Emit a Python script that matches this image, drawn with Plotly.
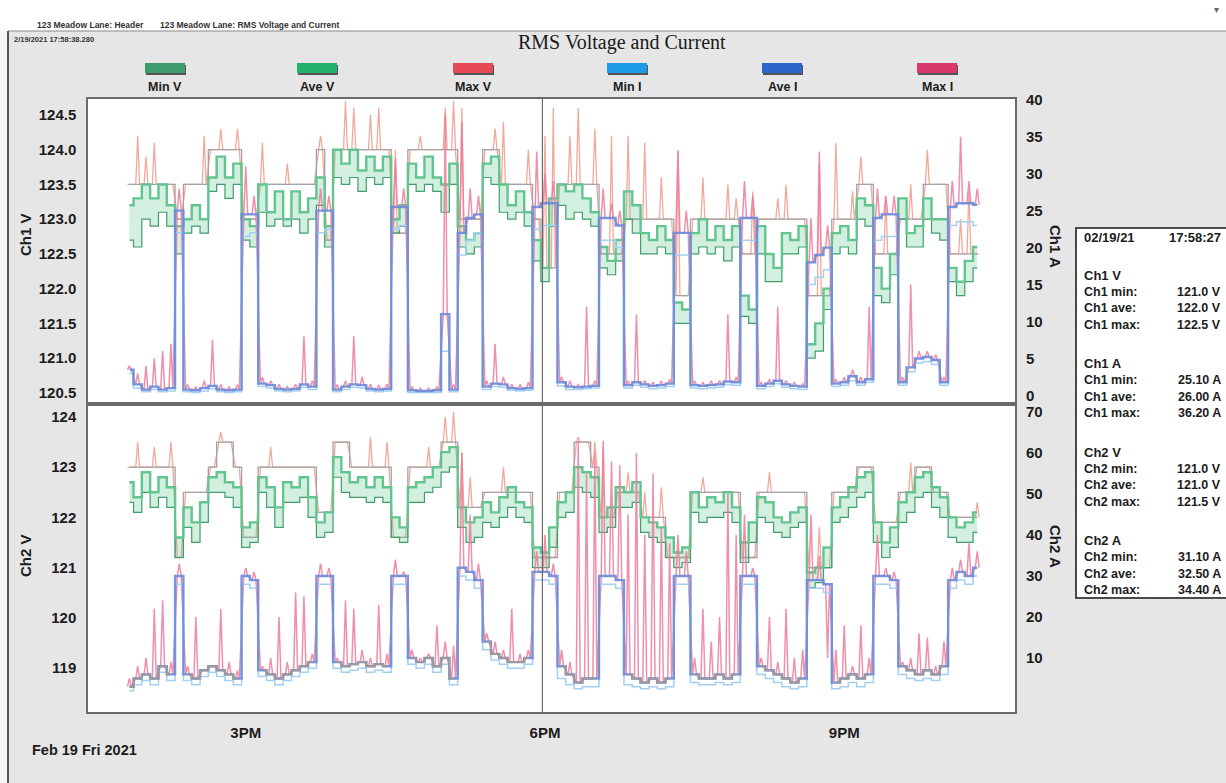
import pandas as pd
import plotly.graph_objects as go

# ---------------- data (5-minute samples from 13:50) -------------
sample_start = "2021-02-19 13:50"
sample_step = "5min"
cursor_time = "2021-02-19 17:58:27"

ch1_ave_v = [123.2, 123.3, 123.5, 123.3, 123.5, 123.2, 122.9, 123.0, 123.2, 123.0,
             123.6, 123.9, 123.6, 123.8, 123.0, 122.9, 123.5, 123.1, 123.4, 123.0,
             123.4, 123.1, 123.3, 123.6, 122.9, 124.0, 123.8, 124.0, 123.7, 123.9,
             123.7, 123.9, 123.0, 123.2, 123.8, 123.6, 123.9, 123.6, 123.5, 123.8,
             122.9, 122.7, 122.8, 123.8, 123.9, 123.5, 123.2, 123.4, 123.1, 122.7,
             122.3, 123.3, 123.5, 123.4, 123.5, 123.3, 123.1, 122.6, 122.4, 122.7,
             123.4, 123.2, 122.8, 122.7, 122.9, 122.7, 121.8, 121.7, 122.8, 123.0,
             122.7, 122.9, 122.7, 122.9, 121.9, 121.7, 122.9, 122.5, 122.3, 122.8,
             122.7, 122.9, 121.2, 121.5, 122.0, 122.8, 122.9, 122.7, 123.3, 123.2,
             122.3, 122.0, 122.5, 123.3, 122.8, 122.9, 123.3, 123.0, 123.0, 122.3,
             122.1, 122.4, 122.6]
ch1_min_v = [122.7, 122.6, 123.0, 122.9, 123.1, 122.9, 122.5, 122.8, 122.9, 122.8,
             123.4, 123.5, 123.3, 123.5, 122.7, 122.6, 123.1, 122.9, 123.0, 122.9,
             123.0, 122.8, 123.0, 123.2, 122.6, 123.6, 123.5, 123.6, 123.4, 123.6,
             123.5, 123.6, 122.8, 122.9, 123.5, 123.4, 123.5, 123.4, 123.1, 123.5,
             122.6, 122.5, 122.6, 123.6, 123.5, 123.1, 123.0, 123.1, 122.9, 122.4,
             122.1, 122.9, 123.2, 123.0, 123.1, 123.0, 122.9, 122.3, 122.2, 122.4,
             123.0, 122.8, 122.5, 122.5, 122.6, 122.5, 121.5, 121.5, 122.5, 122.6,
             122.5, 122.6, 122.4, 122.6, 121.6, 121.5, 122.5, 122.1, 122.1, 122.5,
             122.5, 122.6, 121.0, 121.1, 121.7, 122.5, 122.6, 122.5, 123.0, 122.9,
             121.9, 121.8, 122.2, 123.0, 122.6, 122.6, 123.0, 122.8, 122.7, 122.1,
             121.9, 122.1, 122.3]
ch1_trend_v = [123.5, 123.5, 123.5, 123.5, 123.5, 123.5, 123.0, 123.5, 123.5, 123.5,
               124.0, 124.0, 124.0, 124.0, 123.0, 123.0, 123.5, 123.5, 123.5, 123.5,
               123.5, 123.5, 123.5, 124.0, 122.7, 124.0, 124.0, 124.0, 124.0, 124.0,
               124.0, 124.0, 122.8, 122.8, 124.0, 124.0, 124.0, 124.0, 124.0, 124.0,
               123.0, 123.0, 123.0, 124.0, 124.0, 123.5, 123.5, 123.5, 123.5, 123.0,
               122.3, 122.3, 123.5, 123.5, 123.5, 123.5, 123.5, 122.5, 122.5, 122.5,
               123.0, 123.0, 123.0, 123.0, 123.0, 123.0, 121.9, 121.9, 123.0, 123.0,
               123.0, 123.0, 123.0, 123.0, 122.5, 122.5, 123.0, 123.0, 123.0, 123.0,
               123.0, 123.0, 121.9, 121.9, 121.9, 123.0, 123.0, 123.0, 123.5, 123.5,
               122.5, 122.5, 122.5, 123.0, 123.0, 123.0, 123.5, 123.5, 123.5, 122.5,
               122.5, 122.5, 122.5]
ch1_max_v = [123.5, 124.2, 123.9, 124.1, 123.5, 123.5, 123.0, 123.5, 123.5, 124.2,
             124.0, 124.3, 124.0, 124.3, 123.0, 123.0, 124.1, 123.5, 123.5, 123.8,
             123.5, 123.5, 123.5, 124.2, 122.7, 124.0, 124.7, 124.6, 124.0, 124.5,
             124.6, 124.0, 124.0, 122.8, 124.0, 124.2, 124.0, 124.0, 124.6, 124.7,
             124.6, 123.0, 123.0, 124.0, 124.3, 124.4, 123.5, 123.5, 124.0, 123.0,
             124.2, 124.6, 123.5, 124.2, 124.6, 123.5, 124.3, 122.5, 124.2, 122.5,
             124.2, 123.0, 124.1, 123.0, 123.6, 123.0, 124.0, 121.9, 123.0, 123.6,
             123.0, 123.0, 123.5, 123.3, 122.5, 123.4, 123.0, 123.0, 123.3, 123.5,
             123.0, 123.0, 121.9, 123.8, 121.9, 124.1, 123.0, 123.4, 123.9, 123.5,
             122.5, 123.3, 122.5, 123.0, 123.5, 123.0, 124.0, 123.5, 123.5, 122.5,
             123.0, 123.4, 122.5]
ch1_ave_i = [3.5, 1.5, 0.8, 1.2, 0.8, 1.0, 25.0, 0.8, 0.7, 1.0,
             1.3, 0.8, 0.7, 0.8, 24.5, 24.5, 1.6, 1.4, 0.9, 0.8,
             0.9, 1.5, 1.2, 25.0, 25.0, 0.8, 1.2, 1.5, 1.4, 0.9,
             0.8, 0.9, 25.5, 25.5, 0.7, 0.6, 0.6, 0.7, 11.0, 0.8,
             22.0, 24.0, 24.5, 1.2, 1.6, 1.5, 1.0, 0.9, 1.0, 25.5,
             26.0, 26.0, 1.8, 1.2, 1.1, 1.2, 1.3, 24.0, 24.0, 23.0,
             1.4, 1.8, 1.5, 1.3, 1.4, 1.6, 22.0, 22.0, 1.4, 1.3,
             1.4, 1.5, 1.9, 1.8, 24.0, 24.0, 1.3, 1.6, 2.0, 1.5,
             1.3, 1.2, 18.0, 19.0, 20.0, 1.6, 1.8, 2.6, 1.8, 2.2,
             24.0, 24.5, 24.5, 1.8, 3.8, 5.0, 5.2, 4.8, 1.8, 25.5,
             26.0, 26.0, 25.8]
ch1_min_i = [3.0, 1.0, 0.5, 0.8, 0.5, 0.6, 22.0, 0.5, 0.4, 0.6,
             0.9, 0.5, 0.4, 0.5, 21.5, 22.0, 1.2, 1.0, 0.6, 0.5,
             0.6, 1.1, 0.8, 22.0, 22.5, 0.5, 0.8, 1.1, 1.0, 0.6,
             0.5, 0.6, 22.5, 23.0, 0.4, 0.4, 0.4, 0.4, 6.0, 0.5,
             19.0, 21.0, 22.0, 0.8, 1.2, 1.1, 0.7, 0.6, 0.7, 22.5,
             23.0, 23.0, 1.3, 0.8, 0.8, 0.9, 1.0, 21.0, 21.0, 20.0,
             1.0, 1.4, 1.1, 0.9, 1.0, 1.2, 19.0, 19.0, 1.0, 0.9,
             1.0, 1.1, 1.5, 1.4, 21.0, 21.0, 0.9, 1.2, 1.6, 1.1,
             0.9, 0.8, 15.0, 16.0, 17.0, 1.2, 1.4, 2.0, 1.4, 1.8,
             21.0, 21.5, 21.5, 1.4, 3.2, 4.4, 4.6, 4.2, 1.4, 23.0,
             23.5, 23.5, 23.0]
ch1_max_i = [4.0, 3.0, 4.0, 5.0, 6.0, 7.0, 28.0, 1.5, 1.2, 2.0,
             7.5, 1.5, 1.2, 1.5, 31.0, 27.0, 2.5, 2.0, 1.5, 1.2,
             1.5, 8.0, 2.0, 28.0, 27.0, 1.5, 2.0, 8.0, 2.5, 1.5,
             1.4, 1.5, 32.0, 28.0, 1.2, 1.0, 1.0, 1.2, 38.0, 1.5,
             37.0, 28.0, 27.0, 2.0, 7.0, 2.5, 1.5, 1.5, 1.8, 33.0,
             30.0, 29.0, 2.5, 2.0, 1.5, 12.0, 2.0, 28.0, 26.0, 25.0,
             2.0, 11.0, 2.0, 1.8, 2.0, 2.2, 33.0, 25.0, 2.0, 1.8,
             2.0, 2.0, 11.0, 2.5, 29.0, 27.0, 1.8, 2.2, 12.0, 2.0,
             1.8, 1.6, 24.0, 33.0, 23.0, 2.2, 2.5, 3.5, 2.5, 12.0,
             28.0, 27.0, 27.0, 2.5, 15.0, 6.0, 6.0, 5.5, 2.5, 29.0,
             35.0, 29.0, 28.0]

ch2_ave_v = [122.7, 122.4, 122.9, 122.5, 122.8, 122.6, 121.6, 122.2, 121.9, 122.3,
             122.8, 122.9, 122.7, 122.6, 121.8, 121.9, 122.8, 122.6, 122.2, 122.7,
             122.6, 122.8, 122.4, 121.9, 122.1, 123.2, 122.9, 122.7, 122.8, 122.6,
             122.8, 122.6, 122.0, 121.8, 122.6, 122.7, 122.8, 123.0, 123.3, 123.4,
             122.2, 121.9, 122.0, 122.3, 122.1, 122.4, 122.6, 122.3, 122.2, 121.4,
             121.3, 121.8, 122.3, 122.5, 123.0, 122.9, 122.8, 122.0, 122.2, 122.6,
             122.5, 122.7, 122.0, 121.9, 121.8, 121.6, 121.3, 121.4, 122.5, 122.2,
             122.4, 122.3, 122.5, 122.2, 121.5, 121.9, 122.4, 122.3, 122.0, 121.9,
             122.1, 122.2, 120.9, 121.0, 121.4, 122.2, 122.4, 122.6, 122.8, 122.9,
             121.9, 121.5, 121.8, 122.3, 122.5, 122.8, 122.9, 122.6, 122.4, 122.0,
             121.8, 121.9, 122.1]
ch2_min_v = [122.3, 122.1, 122.5, 122.2, 122.4, 122.2, 121.2, 121.8, 121.5, 121.9,
             122.5, 122.5, 122.4, 122.2, 121.4, 121.5, 122.5, 122.2, 121.8, 122.3,
             122.3, 122.4, 122.0, 121.6, 121.7, 122.8, 122.5, 122.4, 122.4, 122.3,
             122.4, 122.3, 121.6, 121.5, 122.3, 122.3, 122.5, 122.6, 122.9, 123.0,
             121.8, 121.5, 121.6, 121.9, 121.8, 122.0, 122.2, 122.0, 121.9, 121.0,
             121.0, 121.4, 122.0, 122.1, 122.6, 122.5, 122.4, 121.7, 121.8, 122.2,
             122.2, 122.3, 121.7, 121.6, 121.5, 121.2, 121.0, 121.1, 122.1, 121.9,
             122.0, 122.0, 122.1, 121.9, 121.1, 121.5, 122.0, 121.9, 121.7, 121.6,
             121.8, 121.9, 120.6, 120.7, 121.0, 121.9, 122.0, 122.2, 122.4, 122.5,
             121.5, 121.2, 121.4, 121.9, 122.1, 122.4, 122.5, 122.2, 122.0, 121.6,
             121.5, 121.5, 121.7]
ch2_trend_v = [123.0, 123.0, 123.0, 123.0, 123.0, 123.0, 121.2, 122.5, 122.5, 122.5,
               123.0, 123.5, 123.5, 123.0, 121.6, 121.6, 123.0, 123.0, 123.0, 123.0,
               123.0, 123.0, 123.0, 122.1, 122.1, 123.5, 123.5, 123.0, 123.0, 123.0,
               123.0, 123.0, 121.6, 121.6, 123.0, 123.0, 123.0, 123.0, 123.5, 123.5,
               122.2, 122.2, 122.2, 122.5, 122.5, 122.5, 122.5, 122.5, 122.5, 121.2,
               121.2, 121.2, 122.5, 122.5, 123.5, 123.5, 123.0, 122.0, 122.0, 122.5,
               122.5, 122.5, 122.0, 122.0, 122.0, 121.2, 121.2, 121.2, 122.5, 122.5,
               122.5, 122.5, 122.5, 122.5, 121.2, 121.2, 122.5, 122.5, 122.5, 122.5,
               122.5, 122.5, 121.0, 121.0, 121.0, 122.5, 122.5, 122.5, 123.0, 123.0,
               121.9, 121.9, 121.9, 122.5, 122.5, 123.0, 123.0, 122.5, 122.5, 122.0,
               122.0, 122.0, 122.0]
ch2_max_v = [123.0, 123.5, 123.0, 123.4, 123.0, 123.5, 121.2, 122.5, 122.5, 122.5,
             123.0, 123.7, 123.5, 123.0, 121.6, 121.6, 123.0, 123.4, 123.0, 123.0,
             123.0, 123.0, 123.0, 122.1, 122.1, 123.5, 123.5, 123.0, 123.0, 123.6,
             123.0, 123.5, 121.6, 121.6, 123.0, 123.0, 123.4, 123.0, 124.0, 124.1,
             123.3, 122.8, 122.2, 122.5, 122.5, 123.0, 122.5, 122.5, 122.5, 121.2,
             121.2, 121.2, 122.5, 122.5, 123.6, 123.5, 123.5, 123.4, 122.0, 122.5,
             122.9, 122.5, 122.5, 122.0, 122.6, 121.2, 121.2, 121.2, 122.5, 122.8,
             122.5, 122.5, 122.5, 122.5, 121.2, 121.2, 122.5, 122.9, 122.5, 122.5,
             122.5, 122.5, 121.0, 121.8, 121.0, 122.5, 122.5, 122.5, 123.0, 123.0,
             121.9, 121.9, 121.9, 122.5, 123.1, 123.0, 123.0, 122.5, 122.5, 122.0,
             122.0, 122.0, 122.3]
ch2_ave_i = [3, 5, 6, 5, 8, 6, 30, 6, 5, 7,
             8, 7, 6, 5, 30, 29, 7, 6, 5, 6,
             7, 8, 9, 30, 30, 9, 8, 8.5, 9, 8,
             8.5, 8, 30, 30, 10, 9, 10, 8, 10, 5,
             32, 31, 29, 14, 11, 10, 9, 9, 10, 31,
             31, 30, 8, 6, 4, 5, 5, 30, 30, 29,
             6, 5, 4, 5, 4, 5, 30, 30, 6, 5,
             5, 6, 5, 6, 30, 30, 8, 7, 6, 5,
             4, 5, 29, 29, 28, 4, 5, 6, 5, 6,
             30, 30, 29, 8, 7, 6, 7, 6, 8, 29,
             31, 30, 32]
ch2_min_i = [2, 3.5, 4.5, 3.5, 6.5, 4.5, 28, 4.5, 3.5, 5.5,
             6.5, 5.5, 4.5, 3.5, 28, 27, 5.5, 4.5, 3.5, 4.5,
             5.5, 6.5, 7.5, 28, 28, 7.5, 6.5, 7, 7.5, 6.5,
             7, 6.5, 28, 28, 8.5, 7.5, 8.5, 6.5, 8.5, 3.5,
             30, 29, 27, 12, 9.5, 8.5, 7.5, 7.5, 8.5, 29,
             29, 28, 5, 3.5, 2.5, 3, 3, 28, 28, 27,
             3.5, 3, 2.5, 3, 2.5, 3, 28, 28, 4, 3.5,
             3.5, 4, 3.5, 4, 28, 28, 6, 5, 4, 3,
             2.5, 3, 27, 27, 26, 2.5, 3, 4, 3, 4,
             28, 28, 27, 6, 5, 4.5, 5, 4.5, 6, 27,
             29, 28, 30]
ch2_max_i = [5, 8, 10, 22, 24, 9, 33, 8, 20, 7,
             8, 22, 9, 7, 32, 31, 8, 10, 20, 9,
             26, 25, 11, 33, 32, 10, 24, 22, 12, 10,
             23, 11, 34, 31, 12, 10, 11, 18, 14, 13,
             60, 45, 33, 16, 14, 12, 22, 11, 12, 36,
             40, 33, 12, 9, 63, 55, 60, 63, 58, 57,
             45, 60, 40, 55, 42, 38, 40, 36, 10, 22,
             14, 20, 50, 40, 45, 32, 10, 20, 9, 22,
             10, 12, 45, 35, 10, 12, 18, 8, 18, 10,
             40, 32, 31, 9, 10, 16, 15, 8, 14, 32,
             34, 38, 36]
ch2_trend_i = [3, 5, 6, 5, 8, 6, None, 6, 5, 7,
               8, 7, 6, 5, None, None, 7, 6, 5, 6,
               7, 8, 9, None, None, 9, 8, 8.5, 9, 8,
               8.5, 8, None, None, 10, 9, 10, 8, 10, 5,
               None, None, None, 14, 11, 10, 9, 9, 10, None,
               None, None, 8, 6, 4, 5, 5, None, None, None,
               6, 5, 4, 5, 4, 5, None, None, 6, 5,
               5, 6, 5, 6, None, None, 8, 7, 6, 5,
               4, 5, None, None, None, 4, 5, 6, 5, 6,
               None, None, None, 8, 7, 6, 7, 6, 8, None,
               None, None, None]

x_tick_times = ["2021-02-19 15:00", "2021-02-19 18:00", "2021-02-19 21:00"]
x_tick_text = ["3PM", "6PM", "9PM"]
ch1_v_ticks = [120.5, 121.0, 121.5, 122.0, 122.5, 123.0, 123.5, 124.0, 124.5]
ch1_a_ticks = [0, 5, 10, 15, 20, 25, 30, 35, 40]
ch2_v_ticks = [119, 120, 121, 122, 123, 124]
ch2_a_ticks = [10, 20, 30, 40, 50, 60, 70]

legend_names = ["Min V", "Ave V", "Max V", "Min I", "Ave I", "Max I"]
legend_colors = ["#3f9c6e", "#22b06a", "#e64a55", "#1e9be6", "#2a66cc", "#d8386a"]

info_date = "02/19/21"
info_time = "17:58:27"
info_groups = ["Ch1 V", "Ch1 A", "Ch2 V", "Ch2 A"]
info_labels = [["Ch1 min:", "Ch1 ave:", "Ch1 max:"], ["Ch1 min:", "Ch1 ave:", "Ch1 max:"],
               ["Ch2 min:", "Ch2 ave:", "Ch2 max:"], ["Ch2 min:", "Ch2 ave:", "Ch2 max:"]]
info_values = [["121.0 V", "122.0 V", "122.5 V"], ["25.10 A", "26.00 A", "36.20 A"],
               ["121.0 V", "121.0 V", "121.5 V"], ["31.10 A", "32.50 A", "34.40 A"]]

# ---------------- build ----------------
times = pd.date_range(sample_start, periods=len(ch1_ave_v), freq=sample_step)
half = pd.Timedelta(seconds=70)


def spikes(base, peak):
    xs, ys = [], []
    for t, b, p in zip(times, base, peak):
        xs += [t - half, t, t + half]
        ys += [b, p, b]
    return xs, ys


C_AVE_V, C_MIN_V, C_MAX_V = "#62c58f", "#3f9f6d", "#f09a8a"
C_TREND = "#a3a3a3"
C_AVE_I, C_MIN_I, C_MAX_I = "#6a8cdc", "#a3cff2", "#ee7c9c"
BAND = "rgba(98,197,143,0.28)"

fig = go.Figure()


def step(y, color, width, xa, ya, opacity=1.0, fill=None):
    fig.add_trace(go.Scatter(x=times, y=y, mode="lines", line=dict(color=color, width=width, shape="hvh"),
                             opacity=opacity, xaxis=xa, yaxis=ya, showlegend=False, hoverinfo="skip",
                             fill="tonexty" if fill else None, fillcolor=fill))


def spike(base, peak, color, width, xa, ya, opacity=1.0):
    xs, ys = spikes(base, peak)
    fig.add_trace(go.Scatter(x=xs, y=ys, mode="lines", line=dict(color=color, width=width),
                             opacity=opacity, xaxis=xa, yaxis=ya, showlegend=False, hoverinfo="skip"))


# Channel 1
spike(ch1_trend_v, ch1_max_v, C_MAX_V, 1.3, "x", "y", 0.85)
step(ch1_trend_v, C_TREND, 1.3, "x", "y")
step(ch1_min_v, C_MIN_V, 1.2, "x", "y", 0.5)
step(ch1_ave_v, C_AVE_V, 2.4, "x", "y", 0.85, fill=BAND)
spike(ch1_ave_i, ch1_max_i, C_MAX_I, 1.5, "x", "y2", 0.85)
step(ch1_min_i, C_MIN_I, 1.5, "x", "y2")
step(ch1_ave_i, C_AVE_I, 2.4, "x", "y2", 0.9)

# Channel 2
spike(ch2_trend_v, ch2_max_v, C_MAX_V, 1.3, "x2", "y3", 0.85)
step(ch2_trend_v, C_TREND, 1.3, "x2", "y3")
step(ch2_min_v, C_MIN_V, 1.2, "x2", "y3", 0.5)
step(ch2_ave_v, C_AVE_V, 2.4, "x2", "y3", 0.85, fill=BAND)
spike(ch2_ave_i, ch2_max_i, C_MAX_I, 1.5, "x2", "y4", 0.85)
step(ch2_min_i, C_MIN_I, 1.5, "x2", "y4")
step(ch2_ave_i, C_AVE_I, 2.4, "x2", "y4", 0.9)
step(ch2_trend_i, "#9a9a9a", 2.0, "x2", "y4")

# ---------------- layout ----------------
L, R, T, B = 88, 1015, 99, 712
W, H = R - L, B - T


def pxx(px):
    return (px - L) / W


def pxy(py):
    return (B - py) / H


split = pxy(404)
x_range = ["2021-02-19 13:25:07", "2021-02-19 22:42:43"]
tickfont = dict(family="Liberation Sans, Arial", size=15, color="#1c1c1c", weight="bold")
frame = dict(showline=True, linecolor="#6b6b6b", linewidth=1.5, mirror=True, showgrid=False, zeroline=False)

fig.update_layout(
    width=1226, height=783,
    margin=dict(l=L, r=1226 - R, t=T, b=783 - B),
    paper_bgcolor="#e6e6e6", plot_bgcolor="#ffffff",
    showlegend=False,
    xaxis=dict(domain=[0, 1], anchor="y", range=x_range, showticklabels=False, **frame),
    xaxis2=dict(domain=[0, 1], anchor="y3", range=x_range, tickmode="array", tickvals=x_tick_times,
                ticktext=x_tick_text, tickfont=tickfont, ticks="outside", ticklen=6,
                tickcolor="rgba(0,0,0,0)", **frame),
    yaxis=dict(domain=[split, 1], anchor="x", range=[120.34, 124.73], tickmode="array",
               tickvals=ch1_v_ticks, ticktext=[f"{v:.1f}" for v in ch1_v_ticks], tickfont=tickfont,
               ticks="outside", ticklen=7, tickcolor="rgba(0,0,0,0)", **frame),
    yaxis2=dict(overlaying="y", side="right", anchor="x", range=[-1.15, 40.1], tickmode="array",
                tickvals=ch1_a_ticks, tickfont=tickfont, ticks="outside", ticklen=7,
                tickcolor="rgba(0,0,0,0)", showgrid=False, zeroline=False),
    yaxis3=dict(domain=[0, split], anchor="x2", range=[118.12, 124.26], tickmode="array",
                tickvals=ch2_v_ticks, tickfont=tickfont, ticks="outside", ticklen=7,
                tickcolor="rgba(0,0,0,0)", **frame),
    yaxis4=dict(overlaying="y3", side="right", anchor="x2", range=[-3.17, 71.95], tickmode="array",
                tickvals=ch2_a_ticks, tickfont=tickfont, ticks="outside", ticklen=7,
                tickcolor="rgba(0,0,0,0)", showgrid=False, zeroline=False),
)

shapes = []
# white scan header strip and page edges
shapes.append(dict(type="rect", xref="paper", yref="paper", x0=pxx(-5), x1=pxx(1232), y0=pxy(31), y1=pxy(-5),
                   fillcolor="#ffffff", line_width=0, layer="below"))
shapes.append(dict(type="rect", xref="paper", yref="paper", x0=pxx(-5), x1=pxx(7), y0=pxy(790), y1=pxy(31),
                   fillcolor="#f4f4f4", line_width=0, layer="below"))
shapes.append(dict(type="line", xref="paper", yref="paper", x0=pxx(8), x1=pxx(1226), y0=pxy(31), y1=pxy(31),
                   line=dict(color="#8a8a8a", width=1.2)))
shapes.append(dict(type="line", xref="paper", yref="paper", x0=pxx(8), x1=pxx(8), y0=pxy(31), y1=pxy(783),
                   line=dict(color="#555555", width=2)))
# cursor line
shapes.append(dict(type="line", xref="x", yref="paper", x0=cursor_time, x1=cursor_time, y0=0, y1=1,
                   line=dict(color="#6a6a6a", width=1.2)))
# info box
shapes.append(dict(type="rect", xref="paper", yref="paper", x0=pxx(1076), x1=pxx(1232), y0=pxy(598), y1=pxy(228),
                   fillcolor="#ffffff", line=dict(color="#4a4a4a", width=2)))
# legend swatches
legend_x = [165, 317, 473, 627, 782, 937]
for cx, col in zip(legend_x, legend_colors):
    shapes.append(dict(type="rect", xref="paper", yref="paper", x0=pxx(cx - 19), x1=pxx(cx + 21),
                       y0=pxy(75), y1=pxy(65), fillcolor="#555555", line_width=0))
    shapes.append(dict(type="rect", xref="paper", yref="paper", x0=pxx(cx - 20), x1=pxx(cx + 20),
                       y0=pxy(73), y1=pxy(63), fillcolor=col, line_width=0))
fig.update_layout(shapes=shapes)

ann = []


def text(px, py, s, size=13, anchor="center", family="Liberation Sans, Arial", bold=True, color="#1c1c1c",
         angle=0):
    ann.append(dict(xref="paper", yref="paper", x=pxx(px), y=pxy(py), text=s, showarrow=False,
                    xanchor=anchor, yanchor="middle", textangle=angle,
                    font=dict(family=family, size=size, color=color, weight="bold" if bold else "normal")))


text(622, 42, "RMS Voltage and Current", size=20, family="Liberation Serif, Times New Roman", bold=False,
     color="#1a1a1a")
text(35, 25, "123 Meadow Lane: Header", size=8.5, anchor="left", color="#333")
text(158, 25, "123 Meadow Lane: RMS Voltage and Current", size=8.5, anchor="left", color="#333")
text(12, 39, "2/19/2021 17:58:38.280", size=7.5, anchor="left", color="#333")
text(1216, 10, "▾", size=10, color="#666", bold=False)
for cx, name in zip(legend_x, legend_names):
    text(cx, 87, name, size=12.5)
text(25, 235, "Ch1 V", size=15, angle=-90)
text(25, 556, "Ch2 V", size=15, angle=-90)
text(1055, 246, "Ch1 A", size=15, angle=90)
text(1056, 546, "Ch2 A", size=15, angle=90)
text(30, 750, "Feb 19 Fri 2021", size=14.5, anchor="left")

# info box text
text(1082, 237, info_date, size=13, anchor="left")
text(1223, 237, info_time, size=13, anchor="right")
for g, head in enumerate(info_groups):
    y0 = 275 + 88.5 * g
    text(1082, y0, head, size=13, anchor="left")
    for k in range(3):
        yy = y0 + 16.5 * (k + 1)
        text(1082, yy, info_labels[g][k], size=12.5, anchor="left")
        text(1223, yy, info_values[g][k], size=12.5, anchor="right")

fig.update_layout(annotations=ann)
fig.write_html("out.html", config={"displayModeBar": False},
               post_script="document.body.style.margin='0';document.body.style.overflow='hidden';")
